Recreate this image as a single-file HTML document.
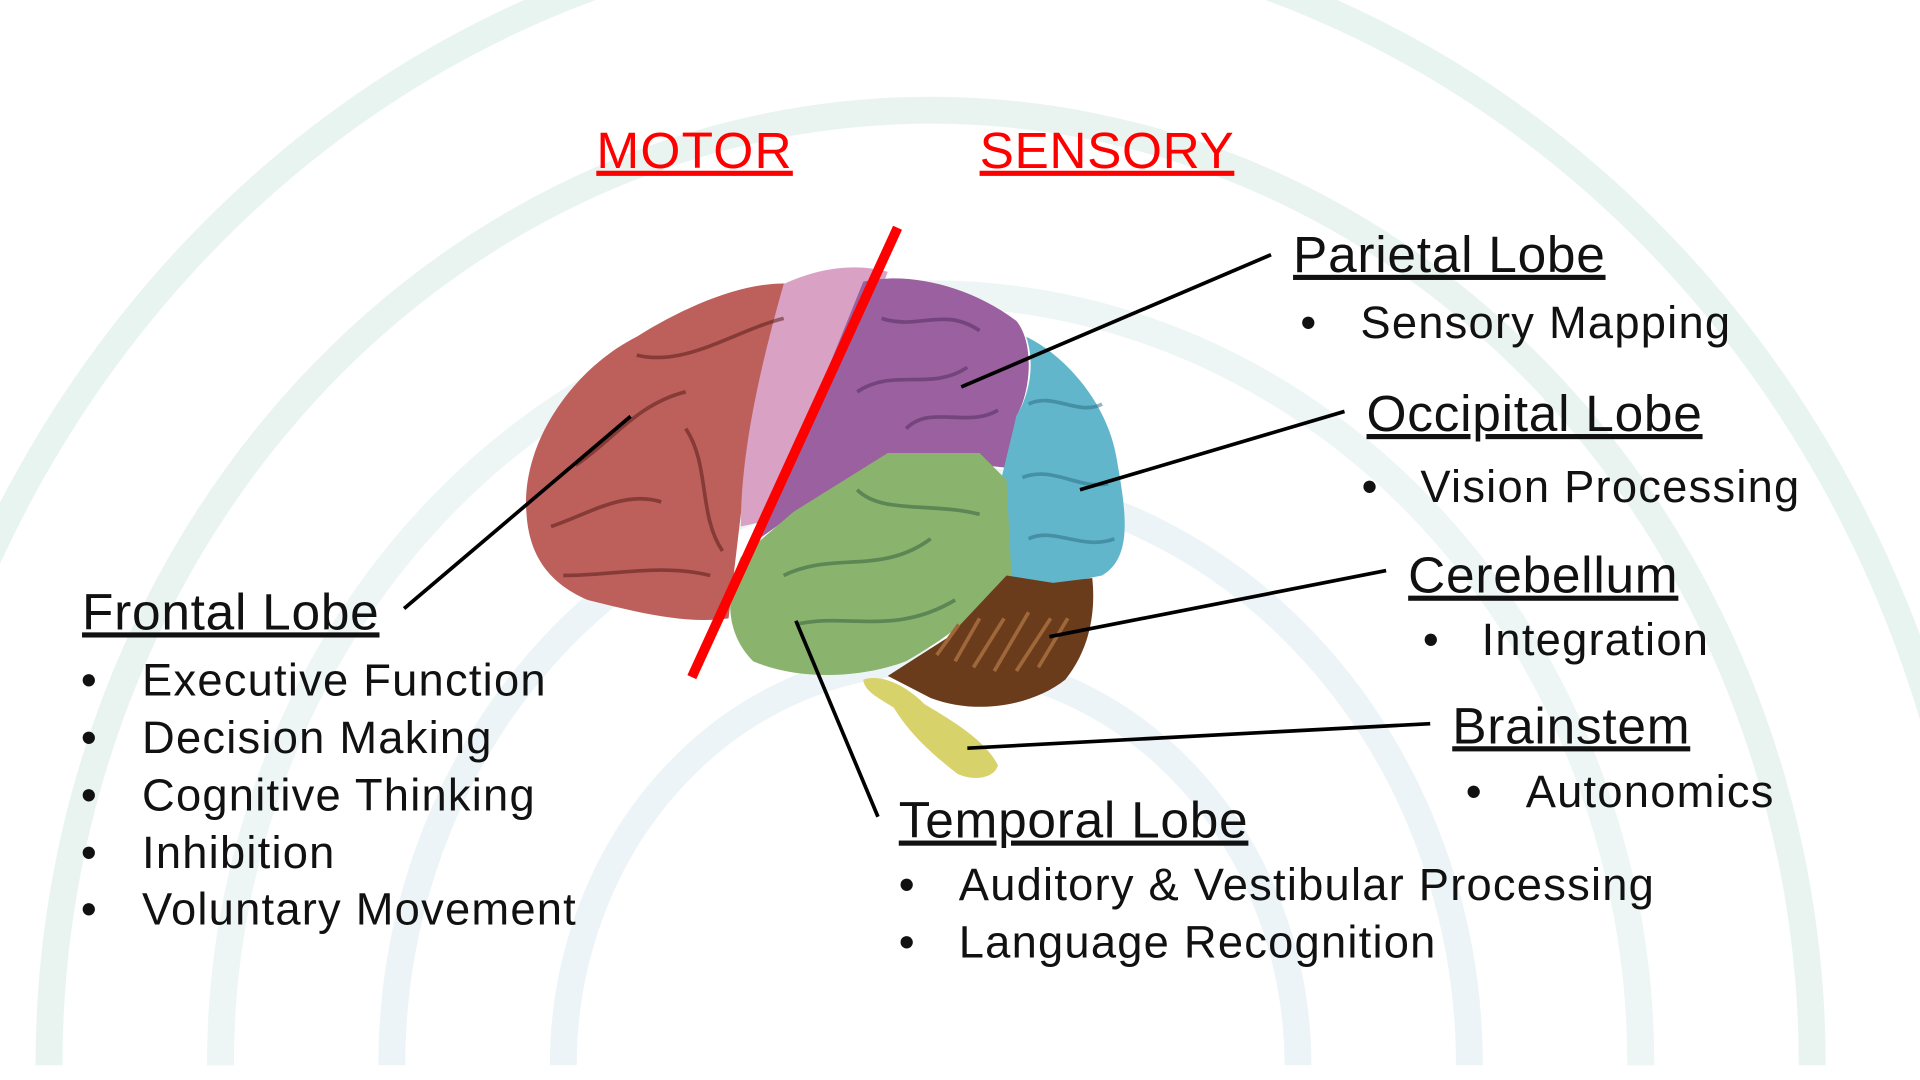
<!DOCTYPE html>
<html><head><meta charset="utf-8"><style>
html,body{margin:0;padding:0;background:#fff;width:1920px;height:1080px;overflow:hidden}
svg{display:block;position:absolute;left:0;top:0;overflow:hidden}
text{font-family:"Liberation Sans",Arial,sans-serif;fill:#111}
.h{font-size:42px;letter-spacing:0.6px;text-decoration:underline}
.b{font-size:37px;letter-spacing:1px}
</style></head><body>
<svg width="1920" height="1080" viewBox="0 0 1568 882" preserveAspectRatio="none" overflow="hidden">
<rect width="1568" height="882" fill="#fff"/>
<g fill="none" stroke-width="22">
<path d="M460,870 A300,330 0 0 1 1060,870" stroke="#edf4f7"/>
<path d="M320,870 A440,480 0 0 1 1200,870" stroke="#edf4f7"/>
<path d="M180,870 A580,630 0 0 1 1340,870" stroke="#edf5f5"/>
<path d="M40,870 A720,780 0 0 1 1480,870" stroke="#e9f4f1"/>
<path d="M-100,870 A860,930 0 0 1 1620,870" stroke="#e8f4f0"/>
</g>
<path d="M430,420 C425,360 470,300 520,275 C560,250 610,228 650,232 L665,245 C640,300 615,360 605,420 L595,505 C560,510 520,500 480,490 C445,475 432,450 430,420Z" fill="#bd605c"/>
<path d="M640,232 C670,218 700,215 725,222 L650,420 L605,430 C605,380 615,320 640,232Z" fill="#d9a2c4"/>
<path d="M705,230 C740,222 790,232 830,262 C845,280 842,320 830,340 L822,382 L730,372 L648,420 L620,440 L705,230Z" fill="#9a60a0"/>
<path d="M838,275 C870,290 905,330 912,375 C920,420 925,455 900,470 L860,478 L822,470 L818,390 L830,340 C842,320 845,295 838,275Z" fill="#62b6cc"/>
<path d="M648,418 L725,370 L800,370 L822,392 L826,470 C800,500 775,520 740,540 C700,555 650,555 615,540 C595,520 590,490 605,455 Z" fill="#8ab36e"/>
<path d="M822,470 L860,476 L892,472 C895,500 890,530 870,555 C845,575 800,585 760,570 L725,552 L775,520 Z" fill="#6a3c1c"/>
<g stroke="#a0683a" stroke-width="3" fill="none">
<path d="M780,540 L800,505 M795,545 L820,505 M812,548 L840,500 M830,548 L858,505 M848,545 L872,505 M765,535 L783,510"/>
</g>
<path d="M705,555 C720,550 740,560 755,575 C780,590 805,605 815,625 C812,636 795,638 782,632 C760,615 742,598 730,578 C718,570 706,565 705,555Z" fill="#d7d26a"/>
<g stroke="#5a1e1a" stroke-width="3" fill="none" opacity="0.55">
<path d="M470,380 C500,360 520,330 560,320 M450,430 C480,420 510,400 540,410 M520,290 C560,300 600,270 640,260 M460,470 C500,470 540,460 580,470 M560,350 C580,380 570,420 590,450"/>
</g>
<g stroke="#4e2a5a" stroke-width="3" fill="none" opacity="0.5">
<path d="M720,260 C750,270 770,250 800,270 M700,320 C730,300 760,320 790,300 M740,350 C760,330 790,350 815,335"/>
</g>
<g stroke="#2e5a3a" stroke-width="3" fill="none" opacity="0.5">
<path d="M640,470 C680,450 720,470 760,440 M650,510 C690,500 730,520 780,490 M700,400 C720,420 760,410 800,420"/>
</g>
<g stroke="#2a6a80" stroke-width="3" fill="none" opacity="0.5">
<path d="M840,330 C860,320 880,340 900,330 M835,390 C860,380 880,400 905,395 M840,440 C860,430 885,450 910,440"/>
</g>
<line x1="733" y1="186" x2="565" y2="553" stroke="#f00" stroke-width="8"/>
<g stroke="#000" stroke-width="3">
<line x1="1038" y1="208" x2="785" y2="316"/>
<line x1="1098" y1="336" x2="882" y2="400"/>
<line x1="1132" y1="466" x2="857" y2="520"/>
<line x1="1168" y1="591" x2="790" y2="611"/>
<line x1="717" y1="667" x2="650" y2="507"/>
<line x1="330" y1="497" x2="515" y2="340"/>
</g>
<text x="487" y="137" style="font-size:42px;letter-spacing:1px;fill:#f00;text-decoration:underline">MOTOR</text>
<text x="800" y="137" style="font-size:42px;letter-spacing:0.5px;fill:#f00;text-decoration:underline">SENSORY</text>
<text class="h" x="1056" y="222">Parietal Lobe</text>
<text class="b" x="1062" y="276">•</text><text class="b" x="1111" y="276">Sensory Mapping</text>
<text class="h" x="1116" y="352">Occipital Lobe</text>
<text class="b" x="1112" y="410">•</text><text class="b" x="1160" y="410">Vision Processing</text>
<text class="h" x="1150" y="484">Cerebellum</text>
<text class="b" x="1162" y="535">•</text><text class="b" x="1210" y="535">Integration</text>
<text class="h" x="1186" y="607">Brainstem</text>
<text class="b" x="1197" y="659">•</text><text class="b" x="1246" y="659">Autonomics</text>
<text class="h" x="734" y="684">Temporal Lobe</text>
<text class="b" x="734" y="735">•</text><text class="b" x="783" y="735">Auditory &amp; Vestibular Processing</text>
<text class="b" x="734" y="782">•</text><text class="b" x="783" y="782">Language Recognition</text>
<text class="h" x="67" y="514">Frontal Lobe</text>
<text class="b" x="66" y="568">•</text><text class="b" x="116" y="568">Executive Function</text>
<text class="b" x="66" y="615">•</text><text class="b" x="116" y="615">Decision Making</text>
<text class="b" x="66" y="662">•</text><text class="b" x="116" y="662">Cognitive Thinking</text>
<text class="b" x="66" y="709">•</text><text class="b" x="116" y="709">Inhibition</text>
<text class="b" x="66" y="755">•</text><text class="b" x="116" y="755">Voluntary Movement</text>
</svg>
</body></html>
